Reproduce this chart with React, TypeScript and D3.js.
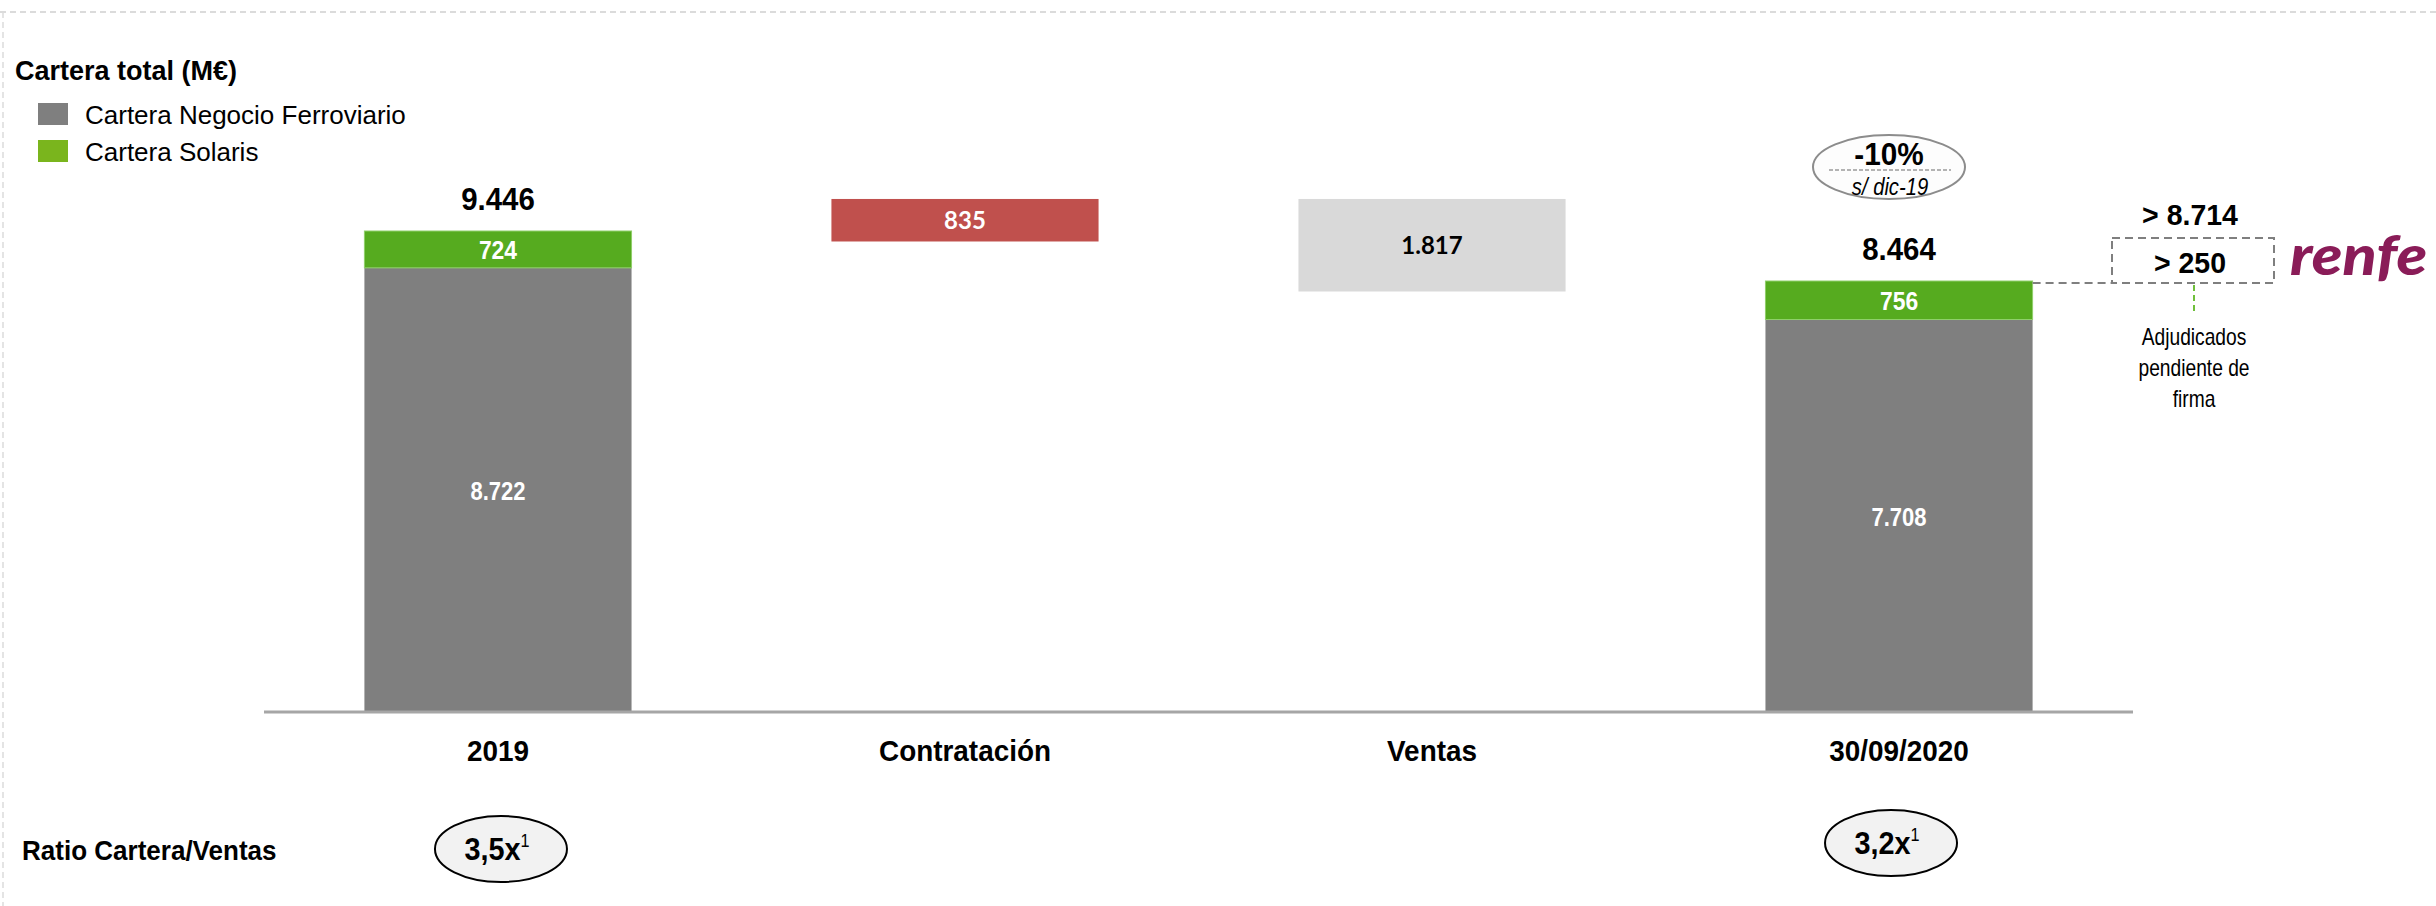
import React from 'react';
import * as d3 from 'd3';

// categorías y valores (M€)
const categories = ['2019', 'Contratación', 'Ventas', '30/09/2020'];
const ferroviario = [8722, 0, 0, 7708];
const solaris = [724, 0, 0, 756];
const totals = [9446, 0, 0, 8464];
const stepValues = [0, 835, -1817, 0];
const stepTop = 10075; // nivel superior de los escalones en la diapositiva
const ratios = ['3,5x', '', '', '3,2x'];
const legendItems = ['Cartera Negocio Ferroviario', 'Cartera Solaris'];
const adjudicadoTotal = '> 8.714';
const adjudicado = '> 250';
const adjudicadoNote = ['Adjudicados', 'pendiente de', 'firma'];

const W = 2436;
const H = 906;
const SANS = '"Liberation Sans", Arial, sans-serif';
const CAL = 'Lato, "Open Sans", sans-serif';

const C_GRAY = '#7f7f7f';
const C_GREEN = '#56ab1f';
const C_RED = '#c0504d';
const C_LIGHT = '#d9d9d9';

const fmt = (v: number) => d3.format(',')(v).replace(/,/g, '.');

// texto con compresión horizontal (imita Arial Narrow)
const T = ({ x, y, size, w = 'normal', it = false, sx = 1, anchor = 'start', fill = '#000', fam = SANS, children }: any) => (
  <text
    transform={`translate(${x},${y}) scale(${sx},1)`}
    textAnchor={anchor}
    fontFamily={fam}
    fontSize={size}
    fontWeight={w}
    fontStyle={it ? 'italic' : 'normal'}
    fill={fill}
  >
    {children}
  </text>
);

const App: React.FC = () => {
  const x = d3.scaleBand<string>().domain(categories).range([264, 2133]).paddingInner(0.428).paddingOuter(0.215);
  const y = d3.scaleLinear().domain([0, 9446]).range([712, 231]);
  const bw = x.bandwidth();
  const cx = (c: string) => (x(c) as number) + bw / 2;

  const last = categories[3];
  const lastTop = y(totals[3]);
  const boxX0 = 2112;
  const boxX1 = 2274;
  const boxMid = (boxX0 + boxX1) / 2;

  return (
    <svg width={W} height={H} style={{ position: 'absolute', left: 0, top: 0, display: 'block', background: '#fff' }}>
      {/* marco punteado */}
      <line x1={0} x2={W} y1={12} y2={12} stroke="#cfcfcf" strokeWidth={1.5} strokeDasharray="6,4" />
      <line x1={3} x2={3} y1={12} y2={H} stroke="#dcdcdc" strokeWidth={1.5} strokeDasharray="6,4" />

      {/* título y leyenda */}
      <T x={15} y={80} size={27} w="bold">Cartera total (M€)</T>
      {legendItems.map((t, i) => (
        <g key={t}>
          <rect x={38} y={103 + i * 37} width={30} height={22} fill={i === 0 ? C_GRAY : '#7ab51d'} />
          <T x={85} y={124 + i * 37} size={26}>{t}</T>
        </g>
      ))}

      {/* barras apiladas */}
      {categories.map((c, i) =>
        totals[i] > 0 ? (
          <g key={c}>
            <rect x={x(c)} y={y(ferroviario[i])} width={bw} height={y(0) - y(ferroviario[i])} fill={C_GRAY} />
            <rect x={x(c)} y={y(totals[i])} width={bw} height={y(ferroviario[i]) - y(totals[i])} fill={C_GREEN} stroke="#8fcf6a" strokeWidth={1} />
            <T x={cx(c)} y={(y(ferroviario[i]) + y(0)) / 2 + 10} size={25} w="bold" sx={0.88} anchor="middle" fill="#fff">{fmt(ferroviario[i])}</T>
            <T x={cx(c)} y={(y(totals[i]) + y(ferroviario[i])) / 2 + 10} size={26} w="bold" sx={0.88} anchor="middle" fill="#fff">{fmt(solaris[i])}</T>
            <T x={cx(c)} y={y(totals[i]) - 21} size={31} w="bold" sx={0.95} anchor="middle">{fmt(totals[i])}</T>
          </g>
        ) : null
      )}

      {/* escalones */}
      {categories.map((c, i) => {
        if (!stepValues[i]) return null;
        const v = Math.abs(stepValues[i]);
        const y0 = y(stepTop);
        const y1 = y(stepTop - v);
        const pos = stepValues[i] > 0;
        return (
          <g key={c}>
            <rect x={x(c)} y={y0} width={bw} height={y1 - y0} fill={pos ? C_RED : C_LIGHT} />
            <T x={cx(c)} y={(y0 + y1) / 2 + 9} size={24} w="bold" fam={CAL} anchor="middle" fill={pos ? '#fff' : '#000'}>{fmt(v)}</T>
          </g>
        );
      })}

      {/* eje */}
      <line x1={264} x2={2133} y1={712} y2={712} stroke="#a6a6a6" strokeWidth={3} />
      {categories.map((c) => (
        <T key={c} x={cx(c)} y={761} size={30} w="bold" sx={0.93} anchor="middle">{c}</T>
      ))}

      {/* -10% */}
      <ellipse cx={1889} cy={167} rx={76} ry={32} fill="#fdfdfd" stroke="#8c8c8c" strokeWidth={2} />
      <T x={1889} y={165} size={32} w="bold" sx={0.93} anchor="middle">-10%</T>
      <line x1={1829} x2={1951} y1={170} y2={170} stroke="#9a9a9a" strokeWidth={1.5} strokeDasharray="4,2" />
      <T x={1890} y={195} size={23} it sx={0.88} anchor="middle">s/ dic-19</T>

      {/* adjudicados pendiente de firma */}
      <T x={boxMid - 3} y={225} size={30} w="bold" sx={0.95} anchor="middle">{adjudicadoTotal}</T>
      <rect x={boxX0} y={238} width={boxX1 - boxX0} height={lastTop + 2 - 238} fill="none" stroke="#7f7f7f" strokeWidth={2} strokeDasharray="8,5" />
      <T x={boxMid - 3} y={273} size={30} w="bold" sx={0.95} anchor="middle">{adjudicado}</T>
      <line x1={(x(last) as number) + bw} x2={boxX0} y1={lastTop + 2} y2={lastTop + 2} stroke="#7f7f7f" strokeWidth={2} strokeDasharray="8,5" />
      <line x1={boxMid + 1} x2={boxMid + 1} y1={lastTop + 4} y2={lastTop + 31} stroke="#6fbf3a" strokeWidth={2} strokeDasharray="6,4" />
      {adjudicadoNote.map((t, i) => (
        <T key={t} x={boxMid + 1} y={345 + i * 31} size={24} sx={0.8} anchor="middle">{t}</T>
      ))}
      <T x={2290} y={275} size={56} w={900} it sx={1.12} fam={CAL} fill="#8a1c58">renfe</T>

      {/* ratio cartera/ventas */}
      <T x={22} y={860} size={28} w="bold" sx={0.93}>Ratio Cartera/Ventas</T>
      {categories.map((c, i) => {
        if (!ratios[i]) return null;
        const ex = cx(c) + (i === 3 ? -8 : 3);
        const ey = i === 3 ? 843 : 849;
        return (
          <g key={c}>
            <ellipse cx={ex} cy={ey} rx={66} ry={33} fill="#f2f2f2" stroke="#000" strokeWidth={2} />
            <T x={ex - 4} y={ey + 11} size={32} w="bold" sx={0.9} anchor="middle">
              {ratios[i]}
              <tspan fontWeight="normal" fontSize={18} dy={-13}>1</tspan>
            </T>
          </g>
        );
      })}
    </svg>
  );
};

export default App;
